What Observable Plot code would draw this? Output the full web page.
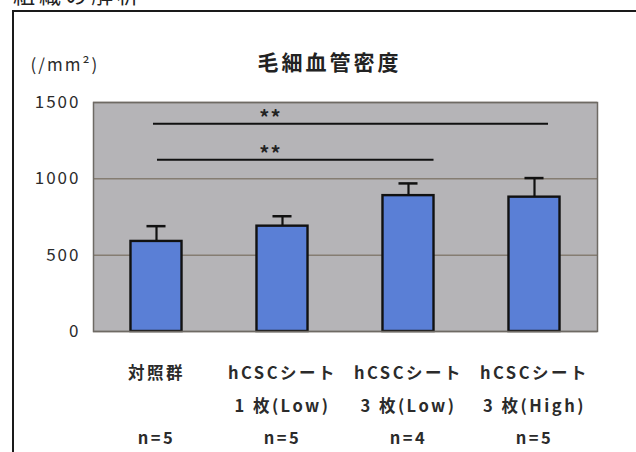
<!DOCTYPE html>
<html>
<head>
<meta charset="utf-8">
<script src="https://cdn.jsdelivr.net/npm/d3@7"></script>
<script src="https://cdn.jsdelivr.net/npm/@observablehq/plot@0.6"></script>
<style>
  html, body { margin: 0; padding: 0; background: #fff; width: 636px; height: 452px; overflow: hidden; }
  #page { position: relative; width: 636px; height: 452px; overflow: hidden; font-family: "Noto Sans CJK JP", sans-serif; }
  #heading { position: absolute; left: 13px; top: -23px; font-size: 22px; letter-spacing: 4px; color: #222; }
  #box { position: absolute; left: 12px; top: 10px; width: 700px; height: 500px; border: 2px solid #1a1a1a; }
  #chart { position: absolute; left: 0; top: 0; }
  #chart svg text { letter-spacing: 2px; }
  #chart g[aria-label="x-axis tick label"] text { letter-spacing: 2.5px; }
  #chart g.title text { letter-spacing: 3px; }
  #chart g.stars text { letter-spacing: 1px; }
</style>
</head>
<body>
<div id="page">
  <div id="heading">組織の解析</div>
  <div id="box"></div>
  <div id="chart"></div>
</div>
<script>
// Capillary density per group (mean and upper SD), with sample sizes
const categories = ["対照群", "hCSCシート\n1 枚(Low)", "hCSCシート\n3 枚(Low)", "hCSCシート\n3 枚(High)"];
const sampleSizes = [5, 5, 4, 5];
const means = [590, 690, 890, 880];
const errors = [100, 65, 80, 125];
const yTicks = [0, 500, 1000, 1500];

// Significance brackets
const sigFrom = [categories[0], categories[0]];
const sigTo = [categories[3], categories[2]];
const sigLevel = [1360, 1125];
const sigLabel = ["**", "**"];

const title = "毛細血管密度";
const unit = "(/mm²)";

const rows = categories.map((c, i) => ({group: c, mean: means[i], err: errors[i], n: sampleSizes[i]}));
const sig = sigFrom.map((f, i) => ({from: f, to: sigTo[i], y: sigLevel[i], label: sigLabel[i]}));

const nByGroup = new Map(rows.map(r => [r.group, r.n]));
const tickLabel = d => {
  const lines = d.split("\n");
  if (lines.length < 2) lines.push("");
  lines.push("n=" + nByGroup.get(d));
  return lines.join("\n");
};

const ink = "#111";

const chart = Plot.plot({
  width: 636,
  height: 452,
  marginLeft: 93,
  marginRight: 39,
  marginTop: 102,
  marginBottom: 121,
  style: {background: "transparent", color: "#2b2b2b", fontFamily: "'Noto Sans CJK JP', sans-serif"},
  x: {domain: categories, paddingInner: 0.595, paddingOuter: 0.2975, round: false, label: null},
  y: {domain: [0, 1500], label: null},
  marks: [
    Plot.frame({fill: "#b5b4b7"}),
    Plot.gridY(yTicks, {stroke: "#857d72", strokeOpacity: 1, strokeWidth: 1.5}),
    Plot.axisY({ticks: yTicks, tickSize: 0, tickPadding: 13, fontSize: 17, tickFormat: d => String(d), label: null}),
    Plot.axisX({tickSize: 0, tickPadding: 25, fontSize: 16.5, fontWeight: "bold", lineHeight: 1.95, tickFormat: tickLabel, label: null}),
    // upper error bars
    Plot.ruleX(rows, {x: "group", y1: "mean", y2: d => d.mean + d.err, stroke: ink, strokeWidth: 2.2}),
    Plot.tickY(rows, {x: "group", y: d => d.mean + d.err, stroke: ink, strokeWidth: 2.5, insetLeft: 16, insetRight: 16}),
    Plot.barY(rows, {x: "group", y: "mean", fill: "#5a7fd6", stroke: ink, strokeWidth: 2.4}),
    // significance lines and stars
    Plot.ruleY(sig.slice(0, 1), {y: "y", x1: "from", x2: "to", stroke: ink, strokeWidth: 2, insetLeft: 22.5, insetRight: 11.5}),
    Plot.ruleY(sig.slice(1, 2), {y: "y", x1: "from", x2: "to", stroke: ink, strokeWidth: 2, insetLeft: 26.5, insetRight: 0}),
    Plot.text(sig, {x: () => categories[1], y: "y", text: "label", dx: -12, dy: -5, fontSize: 20, fontWeight: "bold", fill: "#222", className: "stars"}),
    Plot.frame({stroke: "#6e6a64", strokeWidth: 1.5}),
    // title and unit
    Plot.text([title], {frameAnchor: "top", lineAnchor: "middle", dx: -16, dy: -39, fontSize: 21, fontWeight: "bold", fill: "#222", className: "title"}),
    Plot.text([unit], {frameAnchor: "top-left", lineAnchor: "middle", textAnchor: "start", dx: -63, dy: -37, fontSize: 17, fill: "#2b2b2b"})
  ]
});

document.getElementById("chart").appendChild(chart);
</script>
</body>
</html>
